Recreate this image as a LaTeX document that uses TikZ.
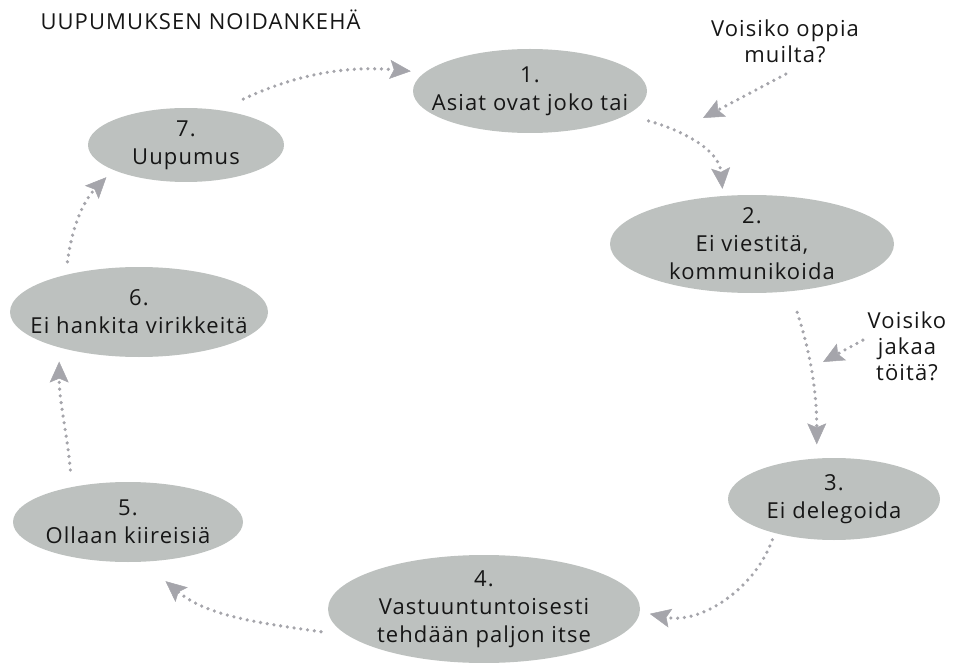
\documentclass[tikz,border=0pt]{standalone}
\usepackage{fontspec}
\setmainfont[LetterSpace=5]{Open Sans}
\usetikzlibrary{arrows.meta}
\usetikzlibrary{shapes.geometric}

\definecolor{ovalgray}{RGB}{189,193,191}
\definecolor{dotgray}{RGB}{165,165,171}
\definecolor{inkgray}{RGB}{22,22,22}
\tikzset{
	stage/.style={ellipse, fill=ovalgray, inner xsep=-40pt, inner ysep=-10pt, align=center, text=inkgray, font=\fontsize{22}{28}\selectfont},
	flow/.style={draw=dotgray, line width=3.6pt, line cap=round, dash pattern=on 0pt off 6.8pt, -{Stealth[length=21pt, width=19pt, inset=4pt, line width=0.5pt]}},
	note/.style={align=center, text=inkgray, inner sep=2pt, font=\fontsize{22}{26}\selectfont},
}

\begin{document}
\begin{tikzpicture}[x=1pt, y=-1pt]
		\useasboundingbox (0,0) rectangle (953,663);
		\node[anchor=base west, text=inkgray, font=\fontsize{22}{26}\selectfont] (title) at (37,30) {UUPUMUKSEN NOIDANKEHÄ};
		% the seven stages
		\node[stage, minimum width=234pt, minimum height=84pt] (s1) at (530,91) {1.\\Asiat ovat joko tai};
		\node[stage, minimum width=284pt, minimum height=98pt] (s2) at (752,244) {2.\\Ei viestitä,\\kommunikoida};
		\node[stage, minimum width=212pt, minimum height=82pt] (s3) at (834,499) {3.\\Ei delegoida};
		\node[stage, minimum width=312pt, minimum height=108pt] (s4) at (484,609) {4.\\Vastuuntuntoisesti\\tehdään paljon itse};
		\node[stage, minimum width=230pt, minimum height=80pt] (s5) at (128,522) {5.\\Ollaan kiireisiä};
		\node[stage, minimum width=258pt, minimum height=90pt] (s6) at (139,312) {6.\\Ei hankita virikkeitä};
		\node[stage, minimum width=196pt, minimum height=74pt] (s7) at (186,145) {7.\\Uupumus};
		% questions
		\node[note] (q1) at (785,41) {Voisiko oppia\\muilta?};
		\node[note] (q2) at (907,346) {Voisiko\\jakaa\\töitä?};
		\coordinate (t1) at (703,118);
		\coordinate (t2) at (823,362);
		% the circle
		\draw[flow, shorten <=26pt, shorten >=14pt] (s7.46) to[out=25, in=175] (s1.170);
		\draw[flow, shorten <=23pt, shorten >=7pt] (s1.-14) to[out=-15, in=95] (s2.121);
		\draw[flow, shorten <=22pt, shorten >=14pt] (s2.-51) to[out=-72, in=90] (s3.113);
		\draw[flow, shorten <=7pt, shorten >=10pt] (s3.210) to[out=-110, in=-12] (s4.-1);
		\draw[flow, shorten <=27pt, shorten >=30pt] (s4.191) to[out=172, in=-40] (s5.-70);
		\draw[flow, shorten <=17pt, shorten >=14pt] (s5.148) to[out=95, in=-90] (s6.204);
		\draw[flow, shorten <=13pt, shorten >=10pt] (s6.153) to[out=83, in=-134] (s7.199);
		\draw[flow, shorten <=20pt] (q1.-52) -- (t1);
		\draw[flow, shorten <=3pt] (q2.170) -- (t2);
\end{tikzpicture}
\end{document}
